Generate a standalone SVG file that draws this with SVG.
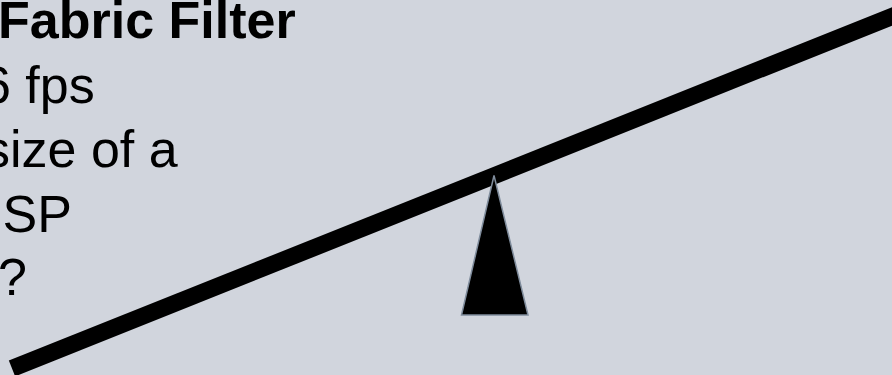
<svg xmlns="http://www.w3.org/2000/svg" width="892" height="375" viewBox="0 0 892 375">
  <style>
    .t { font-family: "Liberation Sans", Arial, sans-serif; font-size: 52px; fill: #000; }
    .b { font-weight: bold; }
  </style>
  <rect x="0" y="0" width="892" height="375" fill="#D1D5DD"/>
  <g id="text">
    <text class="t b" x="-2" y="38">Fabric Filter</text>
    <text class="t" x="-18" y="103">6 fps</text>
    <text class="t" x="-16" y="167">size of a</text>
    <text class="t" x="2.5" y="232">SP</text>
    <text class="t" x="-2" y="295">?</text>
  </g>
  <g id="beam">
    <line x1="12" y1="368.5" x2="905" y2="11.3" stroke="#000" stroke-width="17" stroke-linecap="butt"/>
  </g>
  <g id="fulcrum">
    <polygon points="494,175.5 461.5,315 528,315" fill="#000" stroke="#7F8C9C" stroke-width="1.5" stroke-linejoin="miter"/>
  </g>
</svg>
